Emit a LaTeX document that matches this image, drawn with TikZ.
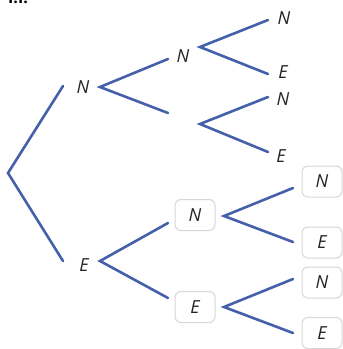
\documentclass[tikz,border=0pt]{standalone}
\usepackage{fontspec}
\setmainfont{Open Sans}
\definecolor{branch}{RGB}{68,96,170}
\definecolor{txt}{RGB}{35,35,35}
\definecolor{boxline}{RGB}{215,215,215}
\tikzset{
  br/.style={draw=branch, line width=2.6pt, line cap=round},
  lbl/.style={text=txt, font=\fontsize{18}{21}\selectfont\itshape, inner sep=0pt},
  boxed/.style={lbl, draw=boxline, line width=1pt, rounded corners=6pt, fill=white, minimum width=40pt, minimum height=31pt},
}
\begin{document}
\begin{tikzpicture}[x=1pt,y=-1pt]
\useasboundingbox (0,0) rectangle (343,349);
% cut-off heading at top
\begin{scope}
\clip (0,0) rectangle (60,3.5);
\node[anchor=base west, inner sep=0pt, font=\fontsize{16}{18}\selectfont\bfseries, text=black] (head) at (8,3) {I.I.};
\end{scope}
% coordinates
\coordinate (r) at (8,173);
\coordinate (r1) at (63,86);
\coordinate (r2) at (63,261);
\node[lbl] (n1) at (83,87) {N};
\node[lbl] (e1) at (84,265) {E};
\coordinate (v1) at (100,87);
\coordinate (v1a) at (168,59);
\coordinate (v1b) at (168,113);
\node[lbl] (n2) at (183,56) {N};
\coordinate (v2) at (200,47);
\coordinate (v2a) at (268,20);
\coordinate (v2b) at (268,74);
\node[lbl] (n3) at (284,18) {N};
\node[lbl] (e3) at (283,72) {E};
\coordinate (v3) at (200,124);
\coordinate (v3a) at (268,97);
\coordinate (v3b) at (268,152);
\node[lbl] (n4) at (283,99) {N};
\node[lbl] (e4) at (281,156) {E};
% lower half
\coordinate (v5) at (100,261);
\coordinate (v5a) at (168,223);
\coordinate (v5b) at (168,298);
\node[boxed] (bn) at (195,215) {N};
\node[boxed] (be) at (195,307) {E};
\coordinate (v6) at (224,216);
\coordinate (v6a) at (293,188);
\coordinate (v6b) at (293,242);
\coordinate (v7) at (224,307);
\coordinate (v7a) at (293,279);
\coordinate (v7b) at (293,333);
\node[boxed] (bn1) at (322,181.5) {N};
\node[boxed] (be1) at (322,242.5) {E};
\node[boxed] (bn2) at (322,282.5) {N};
\node[boxed] (be2) at (322,333) {E};
% branches
\draw[br] (r1) -- (r) -- (r2);
\draw[br] (v1a) -- (v1) -- (v1b);
\draw[br] (v2a) -- (v2) -- (v2b);
\draw[br] (v3a) -- (v3) -- (v3b);
\draw[br] (v5a) -- (v5) -- (v5b);
\draw[br] (v6a) -- (v6) -- (v6b);
\draw[br] (v7a) -- (v7) -- (v7b);
\end{tikzpicture}
\end{document}
